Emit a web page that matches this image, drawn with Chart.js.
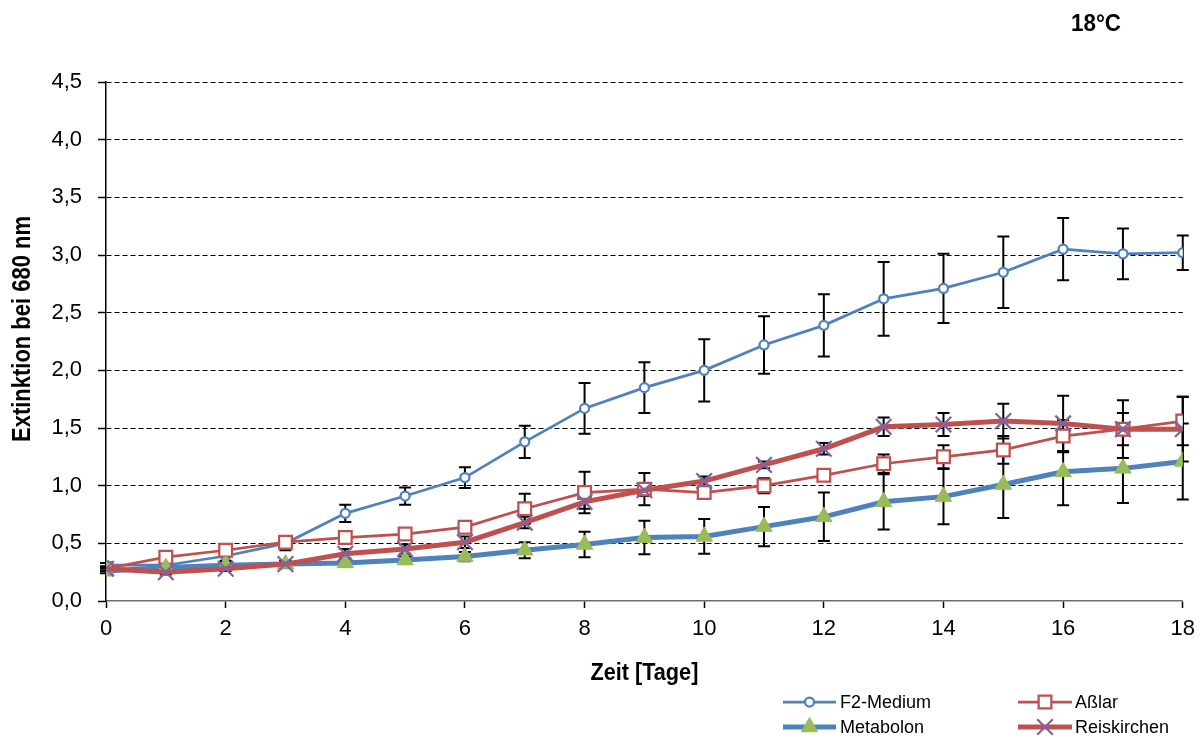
<!DOCTYPE html>
<html>
<head>
<meta charset="utf-8">
<title>Extinktion 18°C</title>
<script src="https://cdn.jsdelivr.net/npm/chart.js@4/dist/chart.umd.min.js"></script>
<style>
  html, body { margin: 0; padding: 0; background: #fff; }
  canvas { display: block; }
</style>
</head>
<body>
<canvas id="chart" width="1203" height="740"></canvas>
<script>
// Daten
const days = [0, 1, 2, 3, 4, 5, 6, 7, 8, 9, 10, 11, 12, 13, 14, 15, 16, 17, 18];

const f2Medium    = [0.31, 0.31, 0.39, 0.50, 0.76, 0.91, 1.07, 1.38, 1.67, 1.85, 2.00, 2.22, 2.39, 2.62, 2.71, 2.85, 3.05, 3.01, 3.02];
const f2MediumErr = [0.02, 0.02, 0.04, 0.06, 0.075, 0.075, 0.09, 0.14, 0.22, 0.22, 0.27, 0.25, 0.27, 0.32, 0.30, 0.31, 0.27, 0.22, 0.15];

const asslar      = [0.28, 0.38, 0.44, 0.51, 0.55, 0.58, 0.64, 0.80, 0.94, 0.97, 0.94, 1.00, 1.09, 1.19, 1.25, 1.31, 1.43, 1.49, 1.56];
const asslarErr   = [0.02, 0.05, 0.03, 0.03, 0.03, 0.03, 0.04, 0.13, 0.18, 0.14, 0.04, 0.065, 0.05, 0.08, 0.10, 0.12, 0.14, 0.14, 0.21];

const metabolon    = [0.26, 0.29, 0.31, 0.32, 0.33, 0.355, 0.385, 0.44, 0.49, 0.55, 0.56, 0.645, 0.73, 0.86, 0.905, 1.01, 1.12, 1.15, 1.21];
const metabolonErr = [0.02, 0.02, 0.03, 0.03, 0.03, 0.03, 0.04, 0.07, 0.11, 0.145, 0.15, 0.17, 0.21, 0.24, 0.24, 0.29, 0.29, 0.30, 0.33];

const reiskirchen    = [0.28, 0.25, 0.28, 0.32, 0.41, 0.45, 0.51, 0.68, 0.86, 0.96, 1.04, 1.18, 1.32, 1.51, 1.53, 1.56, 1.54, 1.49, 1.49];
const reiskirchenErr = [0.02, 0.02, 0.02, 0.03, 0.04, 0.04, 0.05, 0.05, 0.06, 0.05, 0.04, 0.03, 0.05, 0.08, 0.10, 0.15, 0.24, 0.25, 0.28];

const xTitle = 'Zeit [Tage]';
const yTitle = 'Extinktion bei 680 nm';
const chartNote = '18°C';

const BLUE = '#4F81BD', RED = '#C0504D', GREEN = '#9BBB59', PURPLE = '#8064A2';
const FONT = "'Liberation Sans', Arial, sans-serif";

const toPoints = (vals) => days.map((d, i) => ({ x: d, y: vals[i] }));
const errors = [f2MediumErr, asslarErr, metabolonErr, reiskirchenErr];

// Fehlerbalken, Achsentitel und Legende
const extrasPlugin = {
    id: 'extras',
    beforeDatasetsDraw(chart) {
        const { ctx, scales: { y } } = chart;
        ctx.save();
        ctx.strokeStyle = '#000';
        ctx.lineWidth = 2;
        chart.data.datasets.forEach((ds, i) => {
            const meta = chart.getDatasetMeta(i);
            const err = errors[i];
            meta.data.forEach((pt, j) => {
                const v = ds.data[j].y;
                const top = y.getPixelForValue(v + err[j]);
                const bot = y.getPixelForValue(v - err[j]);
                ctx.beginPath();
                ctx.moveTo(pt.x, top); ctx.lineTo(pt.x, bot);
                ctx.moveTo(pt.x - 6, top); ctx.lineTo(pt.x + 6, top);
                ctx.moveTo(pt.x - 6, bot); ctx.lineTo(pt.x + 6, bot);
                ctx.stroke();
            });
        });
        ctx.restore();
    },
    afterDraw(chart) {
        const { ctx, chartArea } = chart;
        ctx.save();
        ctx.fillStyle = '#000';
        ctx.textAlign = 'center';
        ctx.textBaseline = 'middle';

        // x-Titel
        ctx.font = 'bold 24px ' + FONT;
        ctx.fillText(xTitle, (chartArea.left + chartArea.right) / 2, 673, 108);

        // y-Titel
        ctx.save();
        ctx.translate(23, 329);
        ctx.rotate(-Math.PI / 2);
        ctx.font = 'bold 25px ' + FONT;
        ctx.fillText(yTitle, 0, 0, 226);
        ctx.restore();

        // 18°C
        ctx.font = 'bold 24px ' + FONT;
        ctx.fillText(chartNote, 1096, 24, 50);

        // Legende
        const slots = [
            { x1: 783, x2: 836, tx: 840, y: 702 },
            { x1: 1018, x2: 1072, tx: 1075, y: 702 },
            { x1: 783, x2: 836, tx: 840, y: 727 },
            { x1: 1018, x2: 1072, tx: 1075, y: 727 }
        ];
        chart.data.datasets.forEach((ds, i) => {
            const s = slots[i];
            ctx.strokeStyle = ds.borderColor;
            ctx.lineWidth = ds.borderWidth;
            ctx.beginPath();
            ctx.moveTo(s.x1, s.y); ctx.lineTo(s.x2, s.y);
            ctx.stroke();
            ctx.save();
            ctx.fillStyle = ds.pointBackgroundColor;
            ctx.strokeStyle = ds.pointBorderColor;
            ctx.lineWidth = ds.pointBorderWidth;
            Chart.helpers.drawPoint(ctx, {
                pointStyle: ds.pointStyle, radius: ds.pointRadius,
                rotation: 0, borderWidth: ds.pointBorderWidth
            }, (s.x1 + s.x2) / 2, s.y);
            ctx.restore();
            ctx.fillStyle = '#000';
            ctx.textAlign = 'left';
            ctx.font = '18px ' + FONT;
            ctx.fillText(ds.label, s.tx, s.y + 1, 150);
        });
        ctx.restore();
    }
};

new Chart(document.getElementById('chart').getContext('2d'), {
    type: 'line',
    data: {
        datasets: [
            { label: 'F2-Medium', data: toPoints(f2Medium), borderColor: BLUE, borderWidth: 2.75,
              pointStyle: 'circle', pointRadius: 4.5, pointBorderWidth: 2.25,
              pointBackgroundColor: '#fff', pointBorderColor: BLUE, order: 4 },
            { label: 'Aßlar', data: toPoints(asslar), borderColor: RED, borderWidth: 2.75,
              pointStyle: 'rect', pointRadius: 9, pointBorderWidth: 2.25,
              pointBackgroundColor: '#fff', pointBorderColor: RED, order: 3 },
            { label: 'Metabolon', data: toPoints(metabolon), borderColor: BLUE, borderWidth: 5,
              pointStyle: 'triangle', pointRadius: 9.5, pointBorderWidth: 1,
              pointBackgroundColor: GREEN, pointBorderColor: GREEN, order: 2 },
            { label: 'Reiskirchen', data: toPoints(reiskirchen), borderColor: RED, borderWidth: 5,
              pointStyle: 'crossRot', pointRadius: 11, pointBorderWidth: 2.25,
              pointBackgroundColor: PURPLE, pointBorderColor: PURPLE, order: 1 }
        ]
    },
    options: {
        responsive: false,
        animation: false,
        events: [],
        layout: { padding: { left: 0, top: 82, right: 20, bottom: 0 } },
        elements: { line: { tension: 0 } },
        scales: {
            x: {
                type: 'linear', min: 0, max: 18,
                afterFit: (s) => { s.height = 139; },
                ticks: { stepSize: 2, color: '#000', padding: 8, maxRotation: 0,
                         font: { family: FONT, size: 22 } },
                grid: { drawOnChartArea: false, tickLength: 7, tickColor: '#000', tickWidth: 1.5 },
                border: { color: '#6f6f6f', width: 1.5 }
            },
            y: {
                min: 0, max: 4.5,
                afterFit: (s) => { s.width = 106; },
                ticks: { stepSize: 0.5, color: '#000', padding: 16,
                         font: { family: FONT, size: 22 },
                         callback: (v) => v.toFixed(1).replace('.', ',') },
                grid: { color: (c) => c.tick && c.tick.value === 0 ? 'rgba(0,0,0,0)' : '#000',
                        lineWidth: 1, tickLength: 8, tickColor: '#000', tickWidth: 1.5 },
                border: { color: '#000', width: 1.5, dash: [5, 3] }
            }
        },
        plugins: { legend: { display: false }, tooltip: { enabled: false } }
    },
    plugins: [extrasPlugin]
});
</script>
</body>
</html>
